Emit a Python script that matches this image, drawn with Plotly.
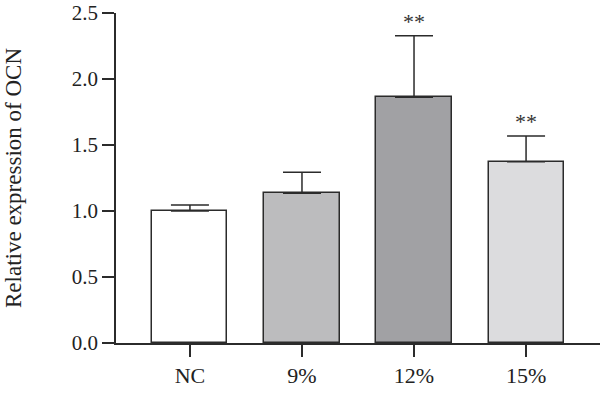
import plotly.graph_objects as go

categories = ["NC", "9%", "12%", "15%"]
values = [1.0, 1.135, 1.862, 1.373]
errors = [0.045, 0.158, 0.466, 0.195]
colors = ["#ffffff", "#bcbcbe", "#a1a1a4", "#dcdcde"]
signif = ["", "", "**", "**"]
yticks = [0.0, 0.5, 1.0, 1.5, 2.0, 2.5]

xs = list(range(len(categories)))
line_c = "#2b2b2b"
font = "Liberation Serif"

fig = go.Figure()
fig.add_trace(go.Bar(
    x=xs, y=values, width=0.67,
    marker=dict(color=colors, line=dict(color=line_c, width=1.5)),
    error_y=dict(type="data", array=errors, symmetric=False, arrayminus=[0]*4,
                 color=line_c, thickness=1.5, width=19),
    showlegend=False,
))

for x, v, e, s in zip(xs, values, errors, signif):
    if s:
        fig.add_annotation(x=x, y=v + e, text=s, showarrow=False,
                           yanchor="bottom", yshift=0,
                           font=dict(family=font, size=22, color="#333333"))

fig.update_layout(
    width=600, height=393,
    margin=dict(l=116, r=0, t=13, b=50, autoexpand=False),
    paper_bgcolor="white", plot_bgcolor="white",
    font=dict(family=font, size=21, color="#222222"),
    bargap=0,
)
fig.update_xaxes(
    range=[-0.66, 3.66], tickvals=xs, ticktext=categories,
    showline=True, linecolor=line_c, linewidth=1.5,
    ticks="outside", ticklen=12, tickwidth=1.5, tickcolor=line_c,
    showgrid=False, zeroline=False, automargin=False,
    tickfont=dict(family=font, size=22),
)
fig.update_yaxes(
    range=[0, 2.5], tickvals=yticks, ticktext=[f"{t:.1f}" for t in yticks],
    showline=True, linecolor=line_c, linewidth=1.5,
    ticks="outside", ticklen=12, tickwidth=1.5, tickcolor=line_c,
    showgrid=False, zeroline=False, automargin=False,
    ticklabeloverflow="allow",
    title=dict(text="Relative expression of OCN", font=dict(family=font, size=23), standoff=44),
    tickfont=dict(family=font, size=21),
)

fig.write_html(
    "out.html",
    config={"displayModeBar": False},
    post_script="document.body.style.margin='0';document.body.style.overflow='hidden';",
)
